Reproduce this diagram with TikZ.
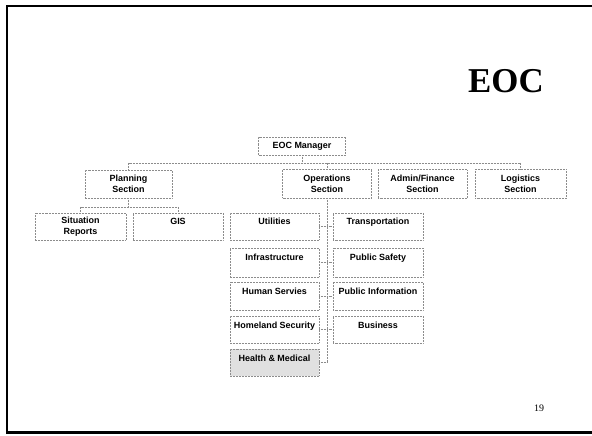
\documentclass[tikz,border=0pt]{standalone}
\usepackage{fontspec}
\setmainfont{Liberation Serif}
\setsansfont{Liberation Sans}
\begin{document}
\begin{tikzpicture}[x=1bp,y=-1bp,
  box/.style={draw=black!45, densely dotted, line width=0.5bp, inner sep=0pt,
    align=center, font=\sffamily\bfseries\fontsize{9}{11}\selectfont},
  onebox/.style={box, minimum width=89bp, minimum height=27bp, text height=6.6bp, text depth=9.6bp},
  conn/.style={draw=black!45, densely dotted, line width=0.5bp}]
\useasboundingbox (0,0) rectangle (592,436);
% frame
\draw[line width=2bp] (7,433.5) -- (7,6) -- (600,6);
\draw[line width=2.5bp] (6,432.5) -- (600,432.5);
% title and page number
\node[font=\bfseries\fontsize{35}{40}\selectfont, inner sep=0pt] (title) at (506,81) {EOC};
\node[font=\fontsize{10}{12}\selectfont, inner sep=0pt] (page) at (539,408.5) {19};
% top level
\node[box, minimum width=87bp, minimum height=18bp] (mgr) at (302,146) {EOC Manager};
\node[box, minimum width=87bp, minimum height=28bp] (plan) at (128.5,184) {Planning\\Section};
\node[box, minimum width=89bp, minimum height=29bp] (ops) at (327,183.5) {Operations\\Section};
\node[box, minimum width=89bp, minimum height=29bp] (admin) at (422.5,184) {Admin/Finance\\Section};
\node[box, minimum width=91bp, minimum height=29bp] (log) at (520.5,184) {Logistics\\Section};
% planning children
\node[box, minimum width=91bp, minimum height=27bp] (sit) at (80.5,226.5) {Situation\\Reports};
\node[onebox, minimum width=90bp] (gis) at (178,226.5) {GIS};
% operations children
\node[onebox] (util) at (274.5,226.5) {Utilities};
\node[onebox, minimum height=29bp] (infra) at (274.5,262.5) {Infrastructure};
\node[onebox, minimum height=28bp] (human) at (274.5,296) {Human Servies};
\node[onebox] (home) at (274.5,329.5) {Homeland Security};
\node[onebox, fill=black!12] (health) at (274.5,362.5) {Health \& Medical};
\node[onebox, minimum width=90bp] (trans) at (378,226.5) {Transportation};
\node[onebox, minimum width=90bp, minimum height=29bp] (safety) at (378,262.5) {Public Safety};
\node[onebox, minimum width=90bp, minimum height=28bp] (info) at (378,296) {Public Information};
\node[onebox, minimum width=90bp] (bus) at (378,329.5) {Business};
% connectors: manager to sections
\coordinate (b0) at (302,163);
\coordinate (bl) at (128.5,163);
\coordinate (br) at (520.5,163);
\draw[conn] (mgr.south) -- (b0);
\draw[conn] (bl) -- (br);
\draw[conn] (bl) -- (plan.north);
\draw[conn] (ops.north |- b0) -- (ops.north);
\draw[conn] (br) -- (log.north);
% planning to children
\coordinate (p0) at (128.5,207);
\draw[conn] (plan.south) -- (p0);
\draw[conn] (sit.north |- p0) -- (gis.north |- p0);
\draw[conn] (sit.north |- p0) -- (sit.north);
\draw[conn] (gis.north |- p0) -- (gis.north);
% operations trunk
\coordinate (t1) at (327,362.5);
\draw[conn] (ops.south) -- (t1);
\foreach \n in {util,infra,human,home,health} \draw[conn] (\n.east) -- (\n.east -| t1);
\foreach \n in {trans,safety,info,bus} \draw[conn] (\n.west -| t1) -- (\n.west);
\end{tikzpicture}
\end{document}
